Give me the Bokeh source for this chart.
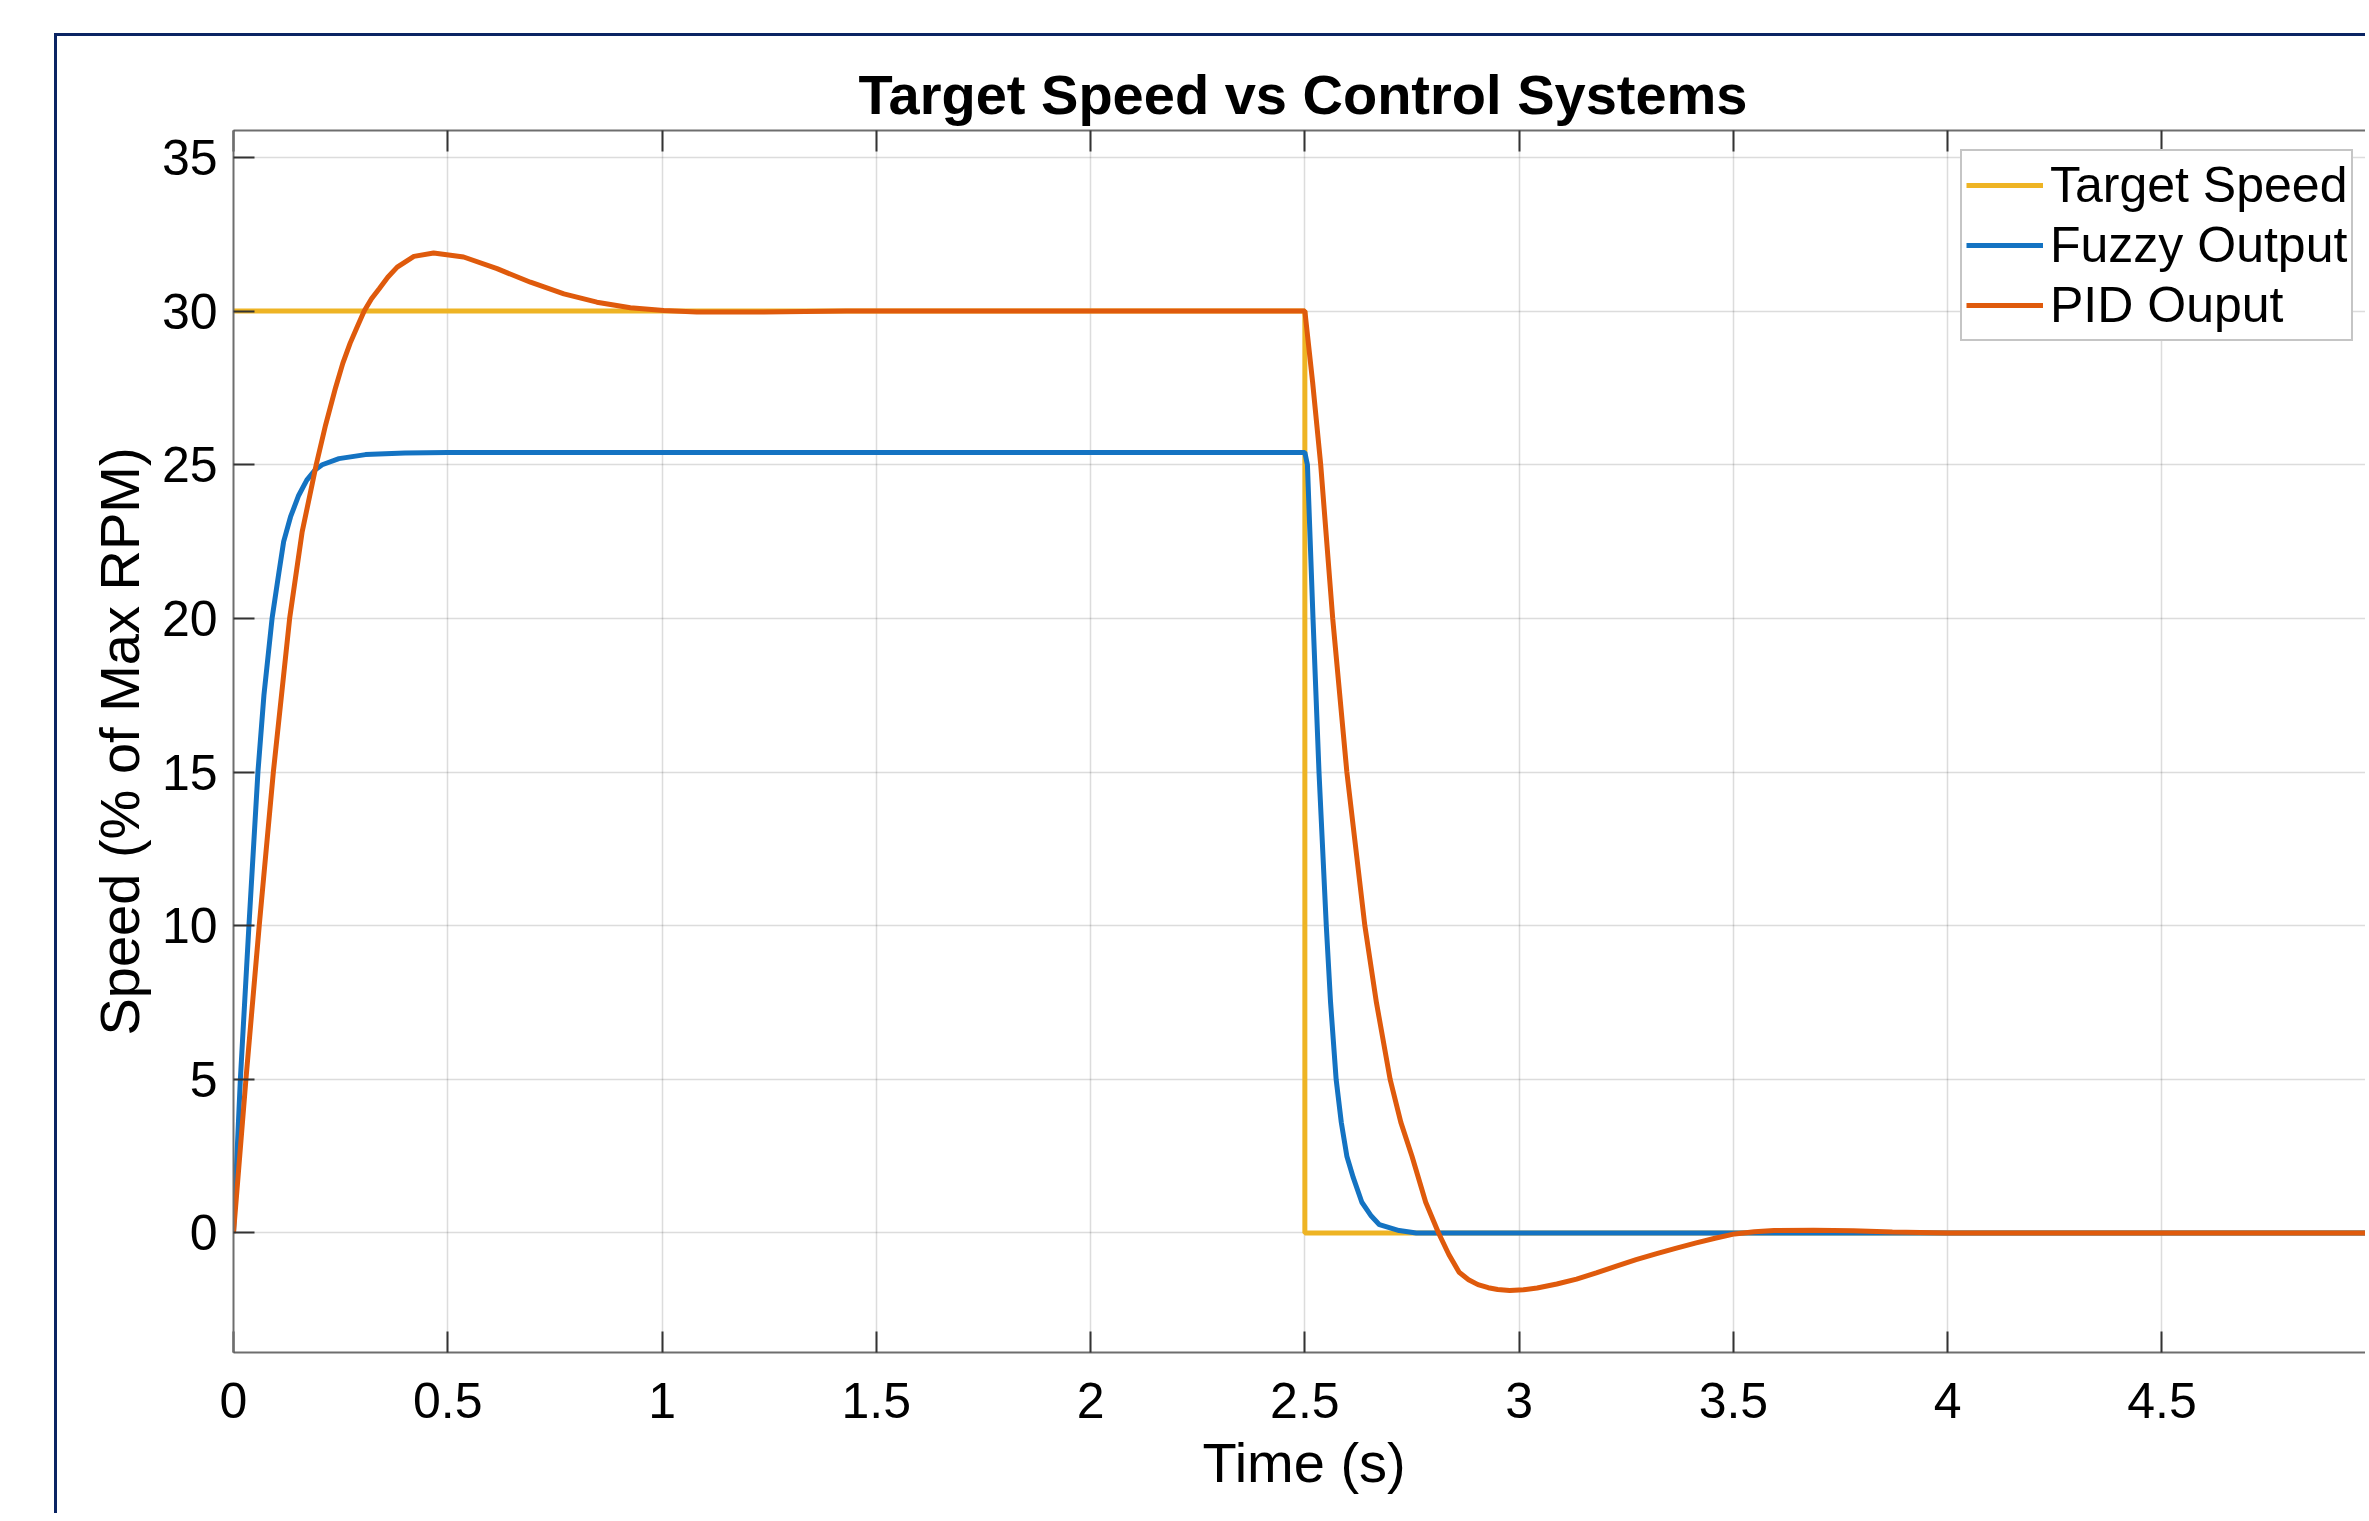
from bokeh.plotting import figure
from bokeh.models import Range1d, FixedTicker, LinearAxis, Legend, LegendItem, Title
from bokeh.embed import file_html
from bokeh.resources import INLINE

# ---------------- data ----------------
target_t = [0, 2.5, 2.5, 5.0]
target_v = [30, 30, 0, 0]

fuzzy_t = [0, 0.016, 0.036, 0.057, 0.071, 0.090, 0.106, 0.117, 0.133, 0.152, 0.171,
           0.191, 0.207, 0.246, 0.308, 0.40, 0.5, 1.0, 2.0, 2.5, 2.506, 2.519, 2.533,
           2.550, 2.560, 2.573, 2.585, 2.598, 2.613, 2.633, 2.655, 2.674, 2.72, 2.76,
           3.0, 4.0, 5.0]
fuzzy_v = [0, 5, 10, 15, 17.5, 20, 21.5, 22.5, 23.3, 24.0, 24.5,
           24.84, 25.0, 25.2, 25.33, 25.38, 25.4, 25.4, 25.4, 25.4, 25.0, 20, 15,
           10, 7.5, 5, 3.6, 2.5, 1.8, 1.0, 0.55, 0.27, 0.08, 0.0,
           0, 0, 0]

pid_t = [0, 0.029, 0.060, 0.093, 0.131, 0.160, 0.193, 0.215, 0.238, 0.255, 0.272,
         0.289, 0.305, 0.322, 0.340, 0.360, 0.382, 0.421, 0.467, 0.537, 0.615, 0.693,
         0.771, 0.848, 0.926, 1.004, 1.081, 1.237, 1.43, 2.0, 2.5, 2.518, 2.537, 2.565,
         2.598, 2.640, 2.667, 2.699, 2.724, 2.750, 2.782, 2.812, 2.836, 2.860, 2.882,
         2.904, 2.928, 2.950, 2.978, 3.010, 3.042, 3.088, 3.134, 3.180, 3.227, 3.273,
         3.319, 3.365, 3.411, 3.457, 3.503, 3.549, 3.595, 3.687, 3.779, 3.871, 4.0,
         4.5, 5.0]
pid_v = [0, 5, 10, 15, 20, 22.8, 25, 26.3, 27.5, 28.3, 28.95,
         29.5, 30.0, 30.4, 30.73, 31.1, 31.43, 31.78, 31.89, 31.76, 31.38, 30.94,
         30.56, 30.29, 30.11, 30.02, 29.97, 29.97, 30.0, 30, 30, 27.7, 25, 20,
         15, 10, 7.5, 5, 3.6, 2.5, 1.0, 0, -0.7, -1.28, -1.52,
         -1.68, -1.78, -1.84, -1.87, -1.85, -1.79, -1.66, -1.50, -1.30, -1.08, -0.87,
         -0.68, -0.50, -0.33, -0.17, -0.03, 0.04, 0.08, 0.09, 0.07, 0.03, 0,
         0, 0]

series_names = ["Target Speed", "Fuzzy Output", "PID Ouput"]
series_colors = ["#EEB424", "#1473C2", "#DF5A0C"]

x_ticks = [0, 0.5, 1, 1.5, 2, 2.5, 3, 3.5, 4, 4.5, 5]
x_tick_labels = ["0", "0.5", "1", "1.5", "2", "2.5", "3", "3.5", "4", "4.5", "5"]
y_ticks = [0, 5, 10, 15, 20, 25, 30, 35]
y_tick_labels = ["0", "5", "10", "15", "20", "25", "30", "35"]

title_text = "Target Speed vs Control Systems"
x_label_text = "Time (s)"
y_label_text = "Speed (% of Max RPM)"

# ---------------- figure ----------------
FONT = "Liberation Sans"
NAVY = "#0a2463"

p = figure(width=2365, height=1513, output_backend="svg", toolbar_location=None,
           x_range=Range1d(0, 4.975), y_range=Range1d(-3.889, 35.877),
           min_border_left=233, min_border_top=130, min_border_bottom=161,
           min_border_right=0, x_axis_location=None, y_axis_location=None)

p.border_fill_alpha = 0
p.background_fill_color = "white"
p.outline_line_color = None
p.styles = {
    "background-image": f"linear-gradient({NAVY},{NAVY}), linear-gradient({NAVY},{NAVY})",
    "background-size": "3px 1480px, 2311px 3px",
    "background-position": "54px 33px, 54px 33px",
    "background-repeat": "no-repeat",
}

xaxis = LinearAxis(ticker=FixedTicker(ticks=x_ticks),
                   major_label_overrides={t: s for t, s in zip(x_ticks, x_tick_labels)})
yaxis = LinearAxis(ticker=FixedTicker(ticks=y_ticks),
                   major_label_overrides={t: s for t, s in zip(y_ticks, y_tick_labels)},
                   axis_label=y_label_text)
# top box edge: only (unlabelled) minor ticks at the x tick positions
top_axis = LinearAxis(ticker=FixedTicker(ticks=[], minor_ticks=x_ticks))

for ax in [xaxis, yaxis, top_axis]:
    ax.major_tick_in = 21
    ax.major_tick_out = 0
    ax.minor_tick_line_color = None
    ax.axis_line_color = "#6e6e6e"
    ax.axis_line_width = 2
    ax.major_tick_line_color = "#333333"
    ax.major_tick_line_width = 2
    ax.major_label_text_font = FONT
    ax.major_label_text_font_size = "50px"
    ax.major_label_text_color = "black"

top_axis.minor_tick_in = 21
top_axis.minor_tick_out = 0
top_axis.minor_tick_line_color = "#333333"
top_axis.minor_tick_line_width = 2

xaxis.major_label_standoff = 30
yaxis.major_label_standoff = 16
yaxis.axis_label_text_font = FONT
yaxis.axis_label_text_font_size = "56px"
yaxis.axis_label_text_font_style = "normal"
yaxis.axis_label_text_color = "black"
yaxis.axis_label_standoff = 8

p.add_layout(xaxis, "below")
p.add_layout(yaxis, "left")
p.add_layout(top_axis, "above")

p.xgrid.ticker = FixedTicker(ticks=x_ticks)
p.ygrid.ticker = FixedTicker(ticks=y_ticks)
for g in [p.xgrid[0], p.ygrid[0]]:
    g.grid_line_color = "#262626"
    g.grid_line_alpha = 0.16
    g.grid_line_width = 1.5

# ---------------- lines ----------------
r1 = p.line(target_t, target_v, line_color=series_colors[0], line_width=5)
r2 = p.line(fuzzy_t, fuzzy_v, line_color=series_colors[1], line_width=5)
r3 = p.line(pid_t, pid_v, line_color=series_colors[2], line_width=5)

legend = Legend(items=[LegendItem(label=series_names[0], renderers=[r1]),
                       LegendItem(label=series_names[1], renderers=[r2]),
                       LegendItem(label=series_names[2], renderers=[r3])],
                location=(1727, 1011))
legend.label_text_font = FONT
legend.label_text_font_size = "50px"
legend.label_text_color = "black"
legend.glyph_width = 77
legend.glyph_height = 60
legend.label_height = 60
legend.label_standoff = 7
legend.spacing = 0
legend.padding = 4
legend.margin = 0
legend.border_line_color = "#8c8c8c"
legend.border_line_width = 2
legend.background_fill_color = "white"
legend.background_fill_alpha = 1
p.add_layout(legend)

# ---------------- titles ----------------
p.title = Title(text=title_text, align="left", offset=625, text_font=FONT,
                text_font_size="56px", text_font_style="bold", text_color="black",
                standoff=9)
p.title_location = "above"
p.add_layout(Title(text=x_label_text, align="left", offset=969, text_font=FONT,
                   text_font_size="56px", text_font_style="normal", text_color="black",
                   standoff=16), "below")

open("out.html", "w").write(file_html(p, INLINE))
